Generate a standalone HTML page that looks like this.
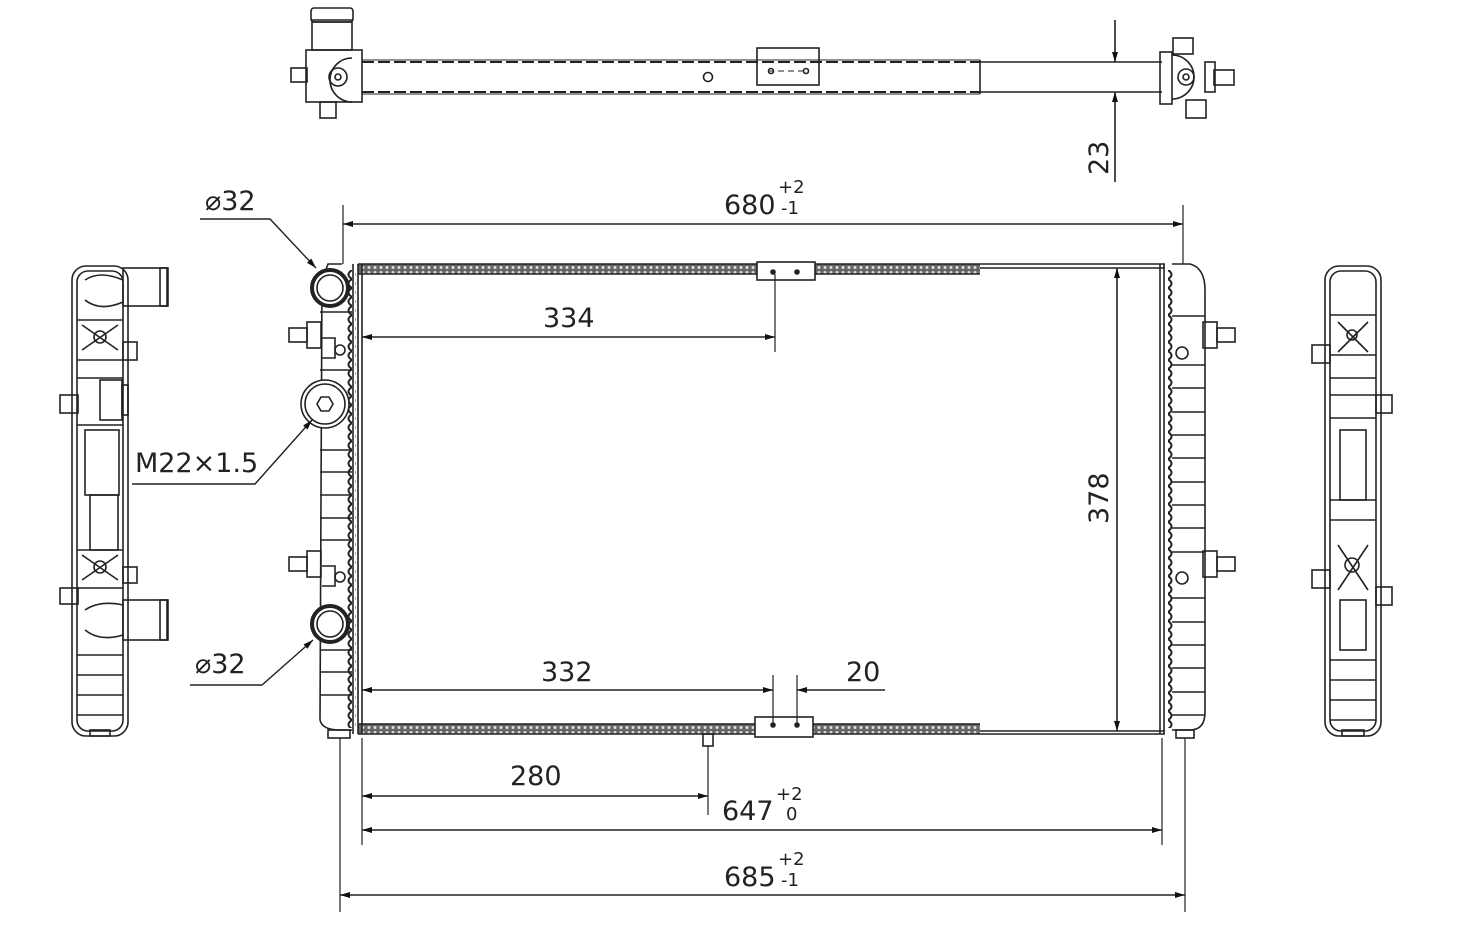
<!DOCTYPE html>
<html><head><meta charset="utf-8"><style>
html,body{margin:0;padding:0;background:#fff;}
svg{display:block}
text{font-family:"DejaVu Sans","Liberation Sans",sans-serif;fill:#222;}
</style></head><body>
<svg width="1462" height="944" viewBox="0 0 1462 944" xmlns="http://www.w3.org/2000/svg">
<defs>
<pattern id="fin" width="6" height="5" patternUnits="userSpaceOnUse">
<rect width="6" height="5" fill="#666"/><circle cx="3" cy="2.5" r="1.5" fill="#ddd"/>
</pattern>
<pattern id="teethL" width="8" height="9" patternUnits="userSpaceOnUse" x="0" y="0">
<path d="M8,0 Q1,4.5 8,9" fill="none" stroke="#222" stroke-width="2"/>
</pattern>
<pattern id="teethR" width="8" height="9" patternUnits="userSpaceOnUse">
<path d="M0,0 Q7,4.5 0,9" fill="none" stroke="#222" stroke-width="2"/>
</pattern>
<marker id="a" viewBox="0 0 10 6" refX="10" refY="3" markerWidth="14" markerHeight="6" markerUnits="userSpaceOnUse" orient="auto-start-reverse">
<path d="M0,0 L10,3 L0,6z" fill="#111"/></marker>
</defs>
<g fill="none" stroke="#222" stroke-width="1.6">
<!-- TOP VIEW -->
<line x1="362" y1="62" x2="980" y2="62" stroke-width="2" stroke-dasharray="12,4"/>
<line x1="362" y1="92" x2="980" y2="92" stroke-width="2" stroke-dasharray="12,4"/>
<line x1="362" y1="60" x2="980" y2="60" stroke-width="1"/>
<line x1="362" y1="94" x2="980" y2="94" stroke-width="1"/>
<line x1="980" y1="62" x2="1162" y2="62"/><line x1="980" y1="92" x2="1162" y2="92"/>
<line x1="980" y1="60" x2="980" y2="94"/>
<rect x="757" y="48" width="62" height="37"/>
<line x1="768" y1="71" x2="808" y2="71" stroke-dasharray="6,4" stroke-width="1"/>
<circle cx="771" cy="71" r="2.5"/><circle cx="806" cy="71" r="2.5"/>
<circle cx="708" cy="77" r="4.5"/>
<rect x="311" y="8" width="42" height="14" rx="3"/>
<line x1="311" y1="20" x2="353" y2="20"/>
<rect x="312" y="22" width="40" height="28"/>
<rect x="306" y="50" width="56" height="52"/>
<rect x="291" y="68" width="16" height="14"/>
<rect x="320" y="102" width="16" height="16"/>
<path d="M352,58 A22,22 0 1,0 352,102"/>
<circle cx="338" cy="77" r="9"/><circle cx="338" cy="77" r="3"/>
<rect x="1173" y="38" width="20" height="16"/>
<rect x="1160" y="52" width="12" height="52"/>
<path d="M1172,55 A22,22 0 1,1 1172,99"/>
<circle cx="1186" cy="77" r="8"/><circle cx="1186" cy="77" r="3"/>
<rect x="1205" y="62" width="10" height="30"/>
<rect x="1214" y="70" width="20" height="15"/>
<rect x="1186" y="100" width="20" height="18"/>
<line x1="1115" y1="20" x2="1115" y2="62" marker-end="url(#a)"/>
<line x1="1115" y1="182" x2="1115" y2="92" marker-end="url(#a)"/>

<!-- MAIN VIEW core -->
<rect x="358" y="264" width="622" height="10" fill="url(#fin)" stroke="none"/>
<rect x="358" y="724" width="622" height="10" fill="url(#fin)" stroke="none"/>
<line x1="358" y1="264" x2="1165" y2="264"/><line x1="358" y1="274" x2="980" y2="274"/>
<line x1="980" y1="268" x2="1165" y2="268"/>
<line x1="358" y1="724" x2="980" y2="724"/><line x1="358" y1="734" x2="1165" y2="734"/>
<line x1="980" y1="731" x2="1165" y2="731"/>
<line x1="358" y1="264" x2="358" y2="734"/><line x1="362" y1="264" x2="362" y2="734"/>
<line x1="1160" y1="264" x2="1160" y2="734"/><line x1="1164" y1="264" x2="1164" y2="734"/>
<rect x="757" y="262" width="58" height="18" fill="#fff"/>
<circle cx="773" cy="272" r="2" fill="#222"/><circle cx="797" cy="272" r="2" fill="#222"/>
<rect x="755" y="717" width="58" height="20" fill="#fff"/>
<circle cx="773" cy="725" r="2" fill="#222"/><circle cx="797" cy="725" r="2" fill="#222"/>
<rect x="703" y="734" width="10" height="12"/>
<rect x="344" y="270" width="12" height="458" fill="url(#teethL)" stroke="none"/>
<line x1="353" y1="264" x2="353" y2="734"/>
<path d="M342,264 L328,264 L322,280 L320,720 Q322,730 340,730 L352,730"/>
<rect x="328" y="730" width="22" height="8"/>
<g stroke-width="1.6">
<line x1="320" y1="450" x2="352" y2="450"/><line x1="320" y1="472" x2="352" y2="472"/><line x1="320" y1="495" x2="352" y2="495"/><line x1="320" y1="518" x2="352" y2="518"/><line x1="320" y1="540" x2="352" y2="540"/><line x1="320" y1="650" x2="352" y2="650"/><line x1="320" y1="672" x2="352" y2="672"/><line x1="320" y1="695" x2="352" y2="695"/><line x1="320" y1="312" x2="352" y2="312"/><line x1="320" y1="370" x2="352" y2="370"/>
</g>
<rect x="289" y="328" width="18" height="14"/><rect x="307" y="322" width="14" height="26"/>
<rect x="289" y="557" width="18" height="14"/><rect x="307" y="551" width="14" height="26"/>
<circle cx="340" cy="350" r="5"/><circle cx="340" cy="577" r="5"/>
<path d="M322,338 L335,338 L335,358 L322,358"/><path d="M322,566 L335,566 L335,586 L322,586"/>
<circle cx="330" cy="288" r="18" stroke-width="4" fill="#fff"/><circle cx="330" cy="288" r="13"/>
<circle cx="330" cy="624" r="18" stroke-width="4" fill="#fff"/><circle cx="330" cy="624" r="13"/>
<circle cx="325" cy="404" r="24" fill="#fff"/><circle cx="325" cy="404" r="20"/>
<polygon points="333,404 329,411 321,411 317,404 321,397 329,397"/>
<rect x="1166" y="270" width="10" height="458" fill="url(#teethR)" stroke="none"/>
<path d="M1172,264 L1190,264 Q1205,268 1205,290 L1205,712 Q1205,730 1190,730 L1172,730"/>
<rect x="1176" y="730" width="18" height="8"/>
<g>
<line x1="1172" y1="316" x2="1205" y2="316"/><line x1="1172" y1="365" x2="1205" y2="365"/><line x1="1172" y1="388" x2="1205" y2="388"/><line x1="1172" y1="412" x2="1205" y2="412"/><line x1="1172" y1="435" x2="1205" y2="435"/><line x1="1172" y1="458" x2="1205" y2="458"/><line x1="1172" y1="482" x2="1205" y2="482"/><line x1="1172" y1="505" x2="1205" y2="505"/><line x1="1172" y1="528" x2="1205" y2="528"/><line x1="1172" y1="552" x2="1205" y2="552"/><line x1="1172" y1="598" x2="1205" y2="598"/><line x1="1172" y1="622" x2="1205" y2="622"/><line x1="1172" y1="645" x2="1205" y2="645"/><line x1="1172" y1="668" x2="1205" y2="668"/><line x1="1172" y1="692" x2="1205" y2="692"/><line x1="1172" y1="715" x2="1205" y2="715"/>
</g>
<rect x="1203" y="322" width="14" height="26"/><rect x="1217" y="328" width="18" height="14"/>
<rect x="1203" y="551" width="14" height="26"/><rect x="1217" y="557" width="18" height="14"/>
<circle cx="1182" cy="353" r="6"/><circle cx="1182" cy="578" r="6"/>

<!-- LEFT SIDE VIEW -->
<rect x="72" y="266" width="56" height="470" rx="14"/>
<rect x="77" y="271" width="46" height="460" rx="11"/>
<rect x="123" y="268" width="44" height="38"/><rect x="160" y="268" width="8" height="38"/>
<path d="M85,280 Q100,270 123,280 M85,300 Q100,312 123,302"/>
<rect x="123" y="600" width="44" height="40"/><rect x="160" y="600" width="8" height="40"/>
<path d="M85,610 Q100,600 123,605 M85,630 Q100,642 123,635"/>
<rect x="123" y="342" width="14" height="18"/><rect x="123" y="567" width="14" height="16"/>
<rect x="60" y="395" width="18" height="18"/><rect x="60" y="588" width="18" height="16"/>
<rect x="100" y="380" width="22" height="40"/><rect x="122" y="385" width="6" height="30"/>
<rect x="85" y="430" width="34" height="65"/><rect x="90" y="495" width="28" height="55"/>
<path d="M82,325 L118,350 M118,325 L82,350 M82,555 L118,580 M118,555 L82,580"/>
<circle cx="100" cy="337" r="6"/><circle cx="100" cy="567" r="6"/>
<line x1="77" y1="320" x2="123" y2="320"/><line x1="77" y1="360" x2="123" y2="360"/><line x1="77" y1="378" x2="123" y2="378"/>
<line x1="77" y1="425" x2="123" y2="425"/><line x1="77" y1="550" x2="123" y2="550"/><line x1="77" y1="588" x2="123" y2="588"/>
<line x1="77" y1="655" x2="123" y2="655"/><line x1="77" y1="675" x2="123" y2="675"/><line x1="77" y1="695" x2="123" y2="695"/><line x1="77" y1="715" x2="123" y2="715"/>
<rect x="90" y="730" width="20" height="6"/>

<!-- RIGHT SIDE VIEW -->
<rect x="1325" y="266" width="56" height="470" rx="14"/>
<rect x="1330" y="271" width="46" height="460" rx="11"/>
<line x1="1330" y1="315" x2="1376" y2="315"/><line x1="1330" y1="355" x2="1376" y2="355"/><line x1="1330" y1="378" x2="1376" y2="378"/><line x1="1330" y1="395" x2="1376" y2="395"/><line x1="1330" y1="418" x2="1376" y2="418"/><line x1="1330" y1="500" x2="1376" y2="500"/><line x1="1330" y1="520" x2="1376" y2="520"/><line x1="1330" y1="660" x2="1376" y2="660"/><line x1="1330" y1="680" x2="1376" y2="680"/><line x1="1330" y1="700" x2="1376" y2="700"/><line x1="1330" y1="720" x2="1376" y2="720"/>
<rect x="1340" y="430" width="26" height="70"/><rect x="1340" y="600" width="26" height="50"/>
<path d="M1338,322 L1368,352 M1368,322 L1338,352 M1338,545 L1368,590 M1368,545 L1338,590"/>
<circle cx="1352" cy="335" r="5"/><circle cx="1352" cy="565" r="7"/>
<rect x="1312" y="345" width="18" height="18"/><rect x="1312" y="570" width="18" height="18"/>
<rect x="1376" y="395" width="16" height="18"/><rect x="1376" y="587" width="16" height="18"/>
<rect x="1342" y="730" width="22" height="6"/>

<!-- DIMENSIONS -->
<line x1="343" y1="205" x2="343" y2="264" stroke-width="1.2"/><line x1="1183" y1="205" x2="1183" y2="264" stroke-width="1.2"/>
<line x1="343" y1="224" x2="1183" y2="224" marker-start="url(#a)" marker-end="url(#a)"/>
<line x1="775" y1="274" x2="775" y2="352" stroke-width="1.2"/>
<line x1="362" y1="337" x2="775" y2="337" marker-start="url(#a)" marker-end="url(#a)"/>
<line x1="1117" y1="268" x2="1117" y2="731" marker-start="url(#a)" marker-end="url(#a)"/>
<line x1="773" y1="675" x2="773" y2="725" stroke-width="1.2"/><line x1="797" y1="675" x2="797" y2="725" stroke-width="1.2"/>
<line x1="362" y1="690" x2="773" y2="690" marker-start="url(#a)" marker-end="url(#a)"/>
<line x1="885" y1="690" x2="797" y2="690" marker-end="url(#a)"/>
<line x1="708" y1="746" x2="708" y2="815" stroke-width="1.2"/>
<line x1="362" y1="796" x2="708" y2="796" marker-start="url(#a)" marker-end="url(#a)"/>
<line x1="362" y1="738" x2="362" y2="845" stroke-width="1.2"/><line x1="1162" y1="738" x2="1162" y2="845" stroke-width="1.2"/>
<line x1="362" y1="830" x2="1162" y2="830" marker-start="url(#a)" marker-end="url(#a)"/>
<line x1="340" y1="738" x2="340" y2="912" stroke-width="1.2"/><line x1="1185" y1="738" x2="1185" y2="912" stroke-width="1.2"/>
<line x1="340" y1="895" x2="1185" y2="895" marker-start="url(#a)" marker-end="url(#a)"/>
<polyline points="200,219 270,219 316,268" marker-end="url(#a)" stroke-width="1.4"/>
<polyline points="132,484 255,484 312,420" marker-end="url(#a)" stroke-width="1.4"/>
<polyline points="190,685 262,685 313,640" marker-end="url(#a)" stroke-width="1.4"/>
</g>
<g font-size="27">
<text x="205" y="210">⌀32</text>
<text x="195" y="673">⌀32</text>
<text x="135" y="472">M22×1.5</text>
<text x="543" y="327">334</text>
<text x="541" y="681">332</text>
<text x="846" y="681">20</text>
<text x="510" y="785">280</text>
<text x="724" y="214">680</text><text x="778" y="193" font-size="18">+2</text><text x="781" y="214" font-size="18">-1</text>
<text x="722" y="820">647</text><text x="776" y="800" font-size="18">+2</text><text x="786" y="820" font-size="18">0</text>
<text x="724" y="886">685</text><text x="778" y="865" font-size="18">+2</text><text x="781" y="886" font-size="18">-1</text>
<text transform="translate(1108,175) rotate(-90)">23</text>
<text transform="translate(1108,524) rotate(-90)">378</text>
</g>
</svg>
</body></html>
